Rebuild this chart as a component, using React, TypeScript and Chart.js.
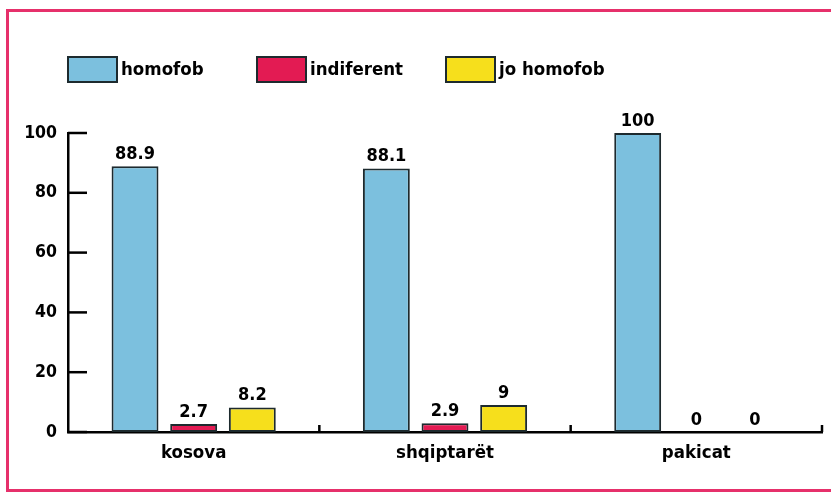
import React, { useEffect, useRef } from 'react';
import { Chart, registerables } from 'chart.js';

Chart.register(...registerables);

const categories = ['kosova', 'shqiptarët', 'pakicat'];
const seriesLabels = ['homofob', 'indiferent', 'jo homofob'];
const homofob = [88.9, 88.1, 100];
const indiferent = [2.7, 2.9, 0];
const joHomofob = [8.2, 9, 0];
const seriesColors = ['#7cc0de', '#e31b53', '#f6df1c'];
const yMin = 0;
const yMax = 100;
const yStep = 20;

const FONT = "'DejaVu Sans Condensed', 'Roboto', sans-serif";
const INK = '#000000';

const legendPlugin = {
  id: 'fixedLegend',
  afterDraw(chart: any) {
    const ctx = chart.ctx;
    const left = chart.chartArea.left;
    const boxW = 49;
    const boxH = 25;
    const top = 57;
    const step = 189;
    ctx.save();
    chart.data.datasets.forEach((ds: any, i: number) => {
      const x = left + i * step;
      ctx.fillStyle = ds.backgroundColor;
      ctx.fillRect(x, top, boxW, boxH);
      ctx.strokeStyle = '#1d2a2e';
      ctx.lineWidth = 2;
      ctx.strokeRect(x, top, boxW, boxH);
      ctx.fillStyle = INK;
      ctx.font = `bold 18.5px ${FONT}`;
      ctx.textAlign = 'left';
      ctx.textBaseline = 'middle';
      ctx.fillText(ds.label, x + boxW + 4, top + boxH / 2 + 1);
    });
    ctx.restore();
  },
};

const valueLabelPlugin = {
  id: 'valueLabels',
  afterDatasetsDraw(chart: any) {
    const ctx = chart.ctx;
    ctx.save();
    ctx.fillStyle = INK;
    ctx.font = `bold 18px ${FONT}`;
    ctx.textAlign = 'center';
    ctx.textBaseline = 'bottom';
    chart.data.datasets.forEach((ds: any, di: number) => {
      const meta = chart.getDatasetMeta(di);
      meta.data.forEach((el: any, i: number) => {
        ctx.fillText(String(ds.data[i]), el.x, el.y - 3);
      });
    });
    ctx.restore();
  },
};

const axisTicksPlugin = {
  id: 'innerTicks',
  afterDraw(chart: any) {
    const ctx = chart.ctx;
    const { left, bottom } = chart.chartArea;
    const y = chart.scales.y;
    const x = chart.scales.x;
    ctx.save();
    ctx.strokeStyle = INK;
    ctx.lineWidth = 2.5;
    y.ticks.forEach((t: any) => {
      const py = y.getPixelForValue(t.value);
      ctx.beginPath();
      ctx.moveTo(left, py);
      ctx.lineTo(left + 19, py);
      ctx.stroke();
    });
    for (let i = 1; i <= categories.length; i++) {
      const px = x.getPixelForValue(i - 0.5);
      ctx.beginPath();
      ctx.moveTo(px, bottom);
      ctx.lineTo(px, bottom - 7);
      ctx.stroke();
    }
    ctx.restore();
  },
};

export default function App() {
  const canvasRef = useRef<HTMLCanvasElement | null>(null);

  useEffect(() => {
    const canvas = canvasRef.current;
    if (!canvas) return;
    const seriesData = [homofob, indiferent, joHomofob];
    const chart = new Chart(canvas, {
      type: 'bar',
      data: {
        labels: categories,
        datasets: seriesData.map((d, i) => ({
          label: seriesLabels[i],
          data: d,
          backgroundColor: seriesColors[i],
          borderColor: '#1d2a2e',
          borderWidth: 2,
          borderSkipped: false,
          categoryPercentage: 0.7,
          barPercentage: 0.8,
        })),
      },
      options: {
        responsive: false,
        animation: false,
        devicePixelRatio: 1,
        layout: { padding: { top: 133, right: 9, left: 0, bottom: 0 } },
        plugins: {
          legend: { display: false },
          tooltip: { enabled: false },
        },
        scales: {
          x: {
            type: 'category',
            offset: true,
            grid: { display: false, drawTicks: false },
            border: { display: true, color: INK, width: 2.5 },
            ticks: { color: INK, font: { family: FONT, size: 18.5, weight: 'bold' }, padding: 10 },
            afterFit: (s: any) => {
              s.height = 61;
            },
          },
          y: {
            min: yMin,
            max: yMax,
            grid: { display: false, drawTicks: false },
            border: { display: true, color: INK, width: 2.5 },
            ticks: { stepSize: yStep, color: INK, font: { family: FONT, size: 17.5, weight: 'bold' }, padding: 11 },
            afterFit: (s: any) => {
              s.width = 68;
            },
          },
        },
      },
      plugins: [valueLabelPlugin, axisTicksPlugin, legendPlugin],
    } as any);
    return () => chart.destroy();
  }, []);

  return (
    <div
      style={{
        position: 'fixed',
        left: 0,
        top: 0,
        width: 831,
        height: 493,
        overflow: 'hidden',
        background: '#ffffff',
      }}
    >
      <canvas ref={canvasRef} width={831} height={493} style={{ position: 'absolute', left: 0, top: 0 }} />
      <div
        style={{
          position: 'absolute',
          left: 6,
          top: 9,
          width: 900,
          height: 483,
          boxSizing: 'border-box',
          border: '3px solid #e6306b',
          pointerEvents: 'none',
        }}
      />
    </div>
  );
}
